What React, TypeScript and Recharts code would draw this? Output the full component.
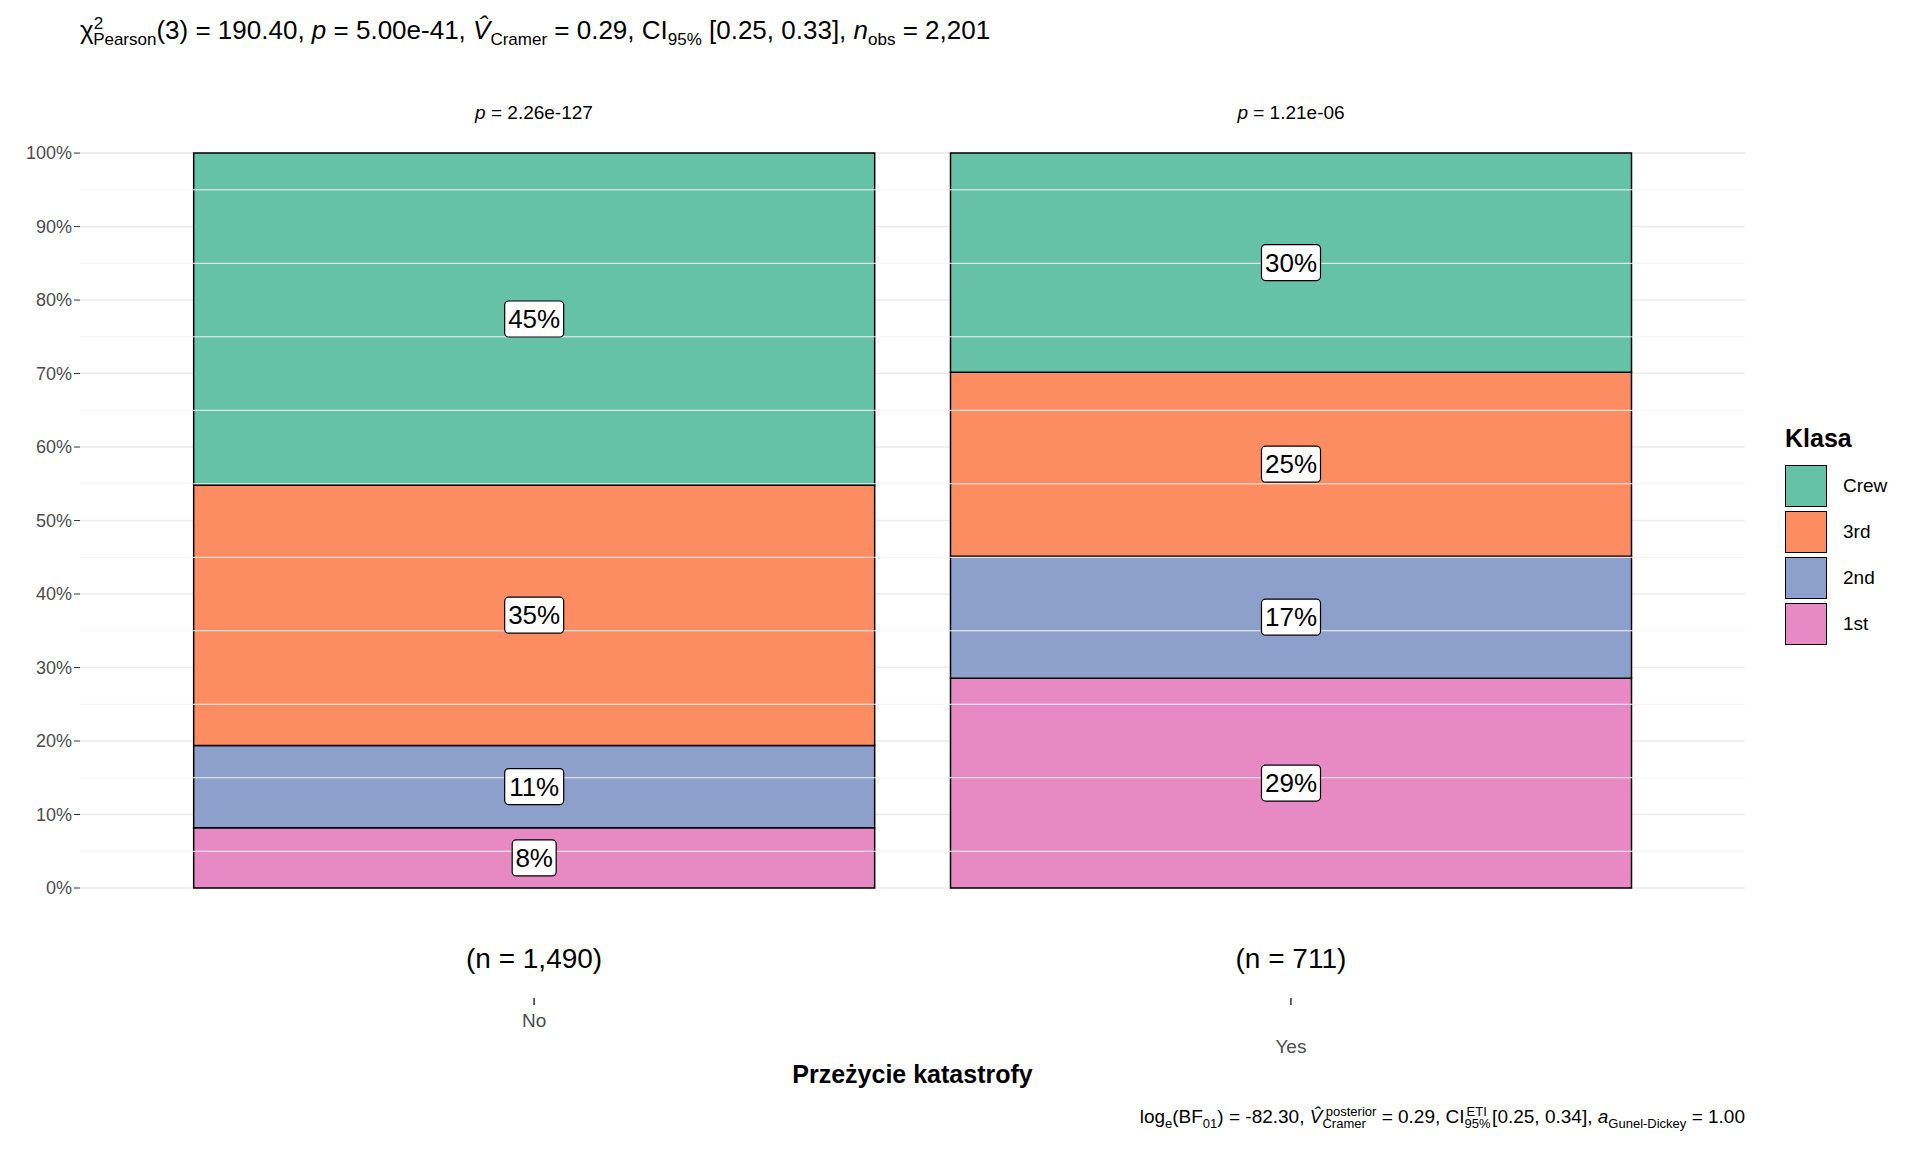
import React from "react";
import { BarChart, Bar, XAxis, YAxis, CartesianGrid, LabelList, ReferenceLine } from "recharts";

const categories = ["No", "Yes"];
const counts = ["(n = 1,490)", "(n = 711)"];
const facetP = ["2.26e-127", "1.21e-06"];
const first = [8.19, 28.55];
const second = [11.21, 16.6];
const third = [35.44, 25.04];
const crew = [45.17, 29.82];
const yTicks = [0, 10, 20, 30, 40, 50, 60, 70, 80, 90, 100];
const minorTicks = [5, 15, 25, 35, 45, 55, 65, 75, 85, 95];
const series = [
  { key: "first", name: "1st", color: "#E78AC3" },
  { key: "second", name: "2nd", color: "#8DA0CB" },
  { key: "third", name: "3rd", color: "#FC8D62" },
  { key: "crew", name: "Crew", color: "#66C2A5" },
];
const data = categories.map((c, i) => ({
  x: i + 1, first: first[i], second: second[i], third: third[i], crew: crew[i],
}));

const FONT = "'Liberation Sans', Arial, sans-serif";

const PctLabel = (props: any) => {
  const { x, y, width, height, value } = props;
  const cx = x + width / 2, cy = y + height / 2;
  const t = Math.round(value) + "%";
  const w = t.length * 15 + 14;
  return (
    <g>
      <rect x={cx - w / 2} y={cy - 18} width={w} height={36} rx={4} fill="#fff" stroke="#000" strokeWidth={1.2} />
      <text x={cx} y={cy + 9} textAnchor="middle" fontSize={26} fontFamily={FONT} fill="#000">{t}</text>
    </g>
  );
};

const XTick = (props: any) => {
  const { x, payload } = props;
  const i = payload.value - 1;
  if (i < 0 || i > 1) return null;
  return (
    <g>
      <text x={x} y={968} textAnchor="middle" fontSize={28} fontFamily={FONT} fill="#000">{counts[i]}</text>
      <line x1={x} x2={x} y1={998} y2={1005} stroke="#333" strokeWidth={1.5} />
      <text x={x} y={i === 0 ? 1027 : 1053} textAnchor="middle" fontSize={19} fontFamily={FONT} fill="#4d4d4d">{categories[i]}</text>
    </g>
  );
};

export default function App() {
  return (
    <div style={{ position: "absolute", left: 0, top: 0, width: 1920, height: 1152, background: "#fff", fontFamily: FONT }}>
      <div style={{ position: "absolute", left: 80, top: 14, fontSize: 26, whiteSpace: "nowrap" }}>
        χ<sup style={{ fontSize: 17 }}>2</sup><sub style={{ fontSize: 17, marginLeft: -10 }}>Pearson</sub>(3) = 190.40, <i>p</i> = 5.00e-41, <i>V̂</i><sub style={{ fontSize: 17 }}>Cramer</sub> = 0.29, CI<sub style={{ fontSize: 17 }}>95%</sub> [0.25, 0.33], <i>n</i><sub style={{ fontSize: 17 }}>obs</sub> = 2,201
      </div>
      {facetP.map((p, i) => (
        <div key={i} style={{ position: "absolute", left: i === 0 ? 534 - 150 : 1291 - 150, width: 300, top: 102, textAlign: "center", fontSize: 19 }}>
          <i>p</i> = {p}
        </div>
      ))}
      <BarChart width={1920} height={1152} data={data} margin={{ top: 153, bottom: 234, left: 0, right: 175 }}>
        <CartesianGrid vertical={false} stroke="#ebebeb" strokeWidth={1.5} />
        {minorTicks.map((m) => (
          <ReferenceLine key={m} y={m} stroke="#f4f4f4" strokeWidth={1} />
        ))}
        <XAxis dataKey="x" type="number" domain={[0.4, 2.6]} ticks={[1, 2]} axisLine={false} tickLine={false} tick={<XTick />} />
        <YAxis type="number" domain={[0, 100]} ticks={yTicks} width={80} axisLine={false}
          tickLine={{ stroke: "#333" }} tickSize={6}
          tickFormatter={(v) => v + "%"} tick={{ fontSize: 18, fill: "#4d4d4d", fontFamily: FONT }} />
        {series.map((s) => (
          <Bar key={s.key} dataKey={s.key} stackId="a" fill={s.color} stroke="#000" strokeWidth={1.5} barSize={681} isAnimationActive={false}>
            <LabelList dataKey={s.key} content={<PctLabel />} />
          </Bar>
        ))}
      </BarChart>
      <div style={{ position: "absolute", left: 0, width: 1825, top: 1060, textAlign: "center", fontSize: 25, fontWeight: "bold" }}>Przeżycie katastrofy</div>
      <div style={{ position: "absolute", right: 175, top: 1104, fontSize: 19, whiteSpace: "nowrap" }}>
        log<sub style={{ fontSize: 13 }}>e</sub>(BF<sub style={{ fontSize: 13 }}>01</sub>) = -82.30, <i>V̂</i><sub style={{ fontSize: 13 }}>Cramer</sub><sup style={{ fontSize: 13, marginLeft: -40 }}>posterior</sup> = 0.29, CI<sub style={{ fontSize: 13 }}>95%</sub><sup style={{ fontSize: 13, marginLeft: -24 }}>ETI</sup> [0.25, 0.34], <i>a</i><sub style={{ fontSize: 13 }}>Gunel-Dickey</sub> = 1.00
      </div>
      <div style={{ position: "absolute", left: 1785, top: 424, fontSize: 25, fontWeight: "bold" }}>Klasa</div>
      {[...series].reverse().map((s, i) => (
        <div key={s.key} style={{ position: "absolute", left: 1785, top: 465 + i * 46 }}>
          <div style={{ position: "absolute", left: 0, top: 0, width: 42, height: 42, background: s.color, border: "1.5px solid #000", boxSizing: "border-box" }} />
          <div style={{ position: "absolute", left: 58, top: 10, fontSize: 19, whiteSpace: "nowrap" }}>{s.name}</div>
        </div>
      ))}
    </div>
  );
}
